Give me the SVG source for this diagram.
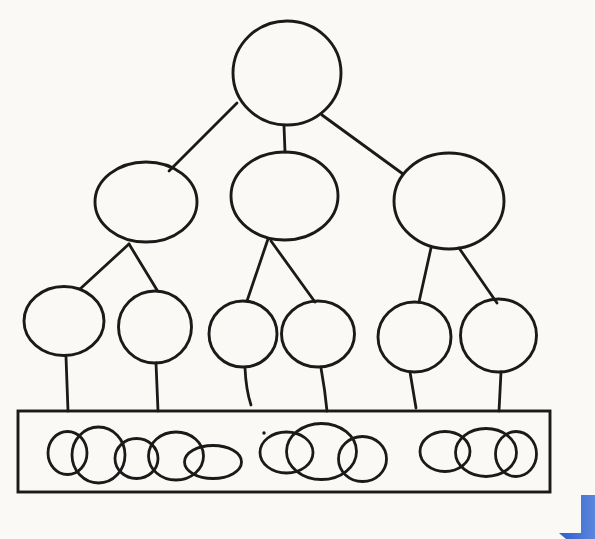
<svg xmlns="http://www.w3.org/2000/svg" width="595" height="539" viewBox="0 0 595 539">
  <style>
    .n { fill: none; stroke: #1a1a1a; stroke-width: 2.9; }
    .e { fill: none; stroke: #1a1a1a; stroke-width: 2.8; stroke-linecap: round; }
    .s { fill: none; stroke: #1a1a1a; stroke-width: 2.8; }
  </style>
  <defs>
    <linearGradient id="blue" x1="0" y1="0" x2="1" y2="0">
      <stop offset="0" stop-color="#2f5fc8"/>
      <stop offset="1" stop-color="#5b86de"/>
    </linearGradient>
  </defs>
  <rect x="0" y="0" width="595" height="539" fill="#fbf9f5"/>

  <g id="connectors">
    <line class="e" x1="237" y1="103" x2="169" y2="171"/>
    <line class="e" x1="284" y1="126" x2="285" y2="152"/>
    <line class="e" x1="322" y1="115" x2="403" y2="174"/>
    <line class="e" x1="129" y1="244" x2="80" y2="289"/>
    <line class="e" x1="129" y1="244" x2="157" y2="290"/>
    <line class="e" x1="268" y1="239" x2="247" y2="301"/>
    <line class="e" x1="271" y1="241" x2="315" y2="302"/>
    <line class="e" x1="431" y1="248" x2="419" y2="302"/>
    <line class="e" x1="459" y1="248" x2="497" y2="303"/>
    <line class="e" x1="66" y1="357" x2="68" y2="411"/>
    <line class="e" x1="156" y1="363" x2="158" y2="411"/>
    <path class="e" d="M245 368 Q246 390 251 405"/>
    <path class="e" d="M321 368 Q325 390 327 411"/>
    <line class="e" x1="410" y1="372" x2="416" y2="408"/>
    <line class="e" x1="501" y1="372" x2="499" y2="411"/>
  </g>

  <g id="root"><ellipse class="n" cx="287" cy="73" rx="54" ry="52"/></g>
  <g id="l2-left"><ellipse class="n" cx="146" cy="202" rx="51" ry="40"/></g>
  <g id="l2-mid"><ellipse class="n" cx="284.5" cy="196" rx="53.5" ry="44"/></g>
  <g id="l2-right"><ellipse class="n" cx="449" cy="201" rx="55" ry="48"/></g>
  <g id="l3-1"><ellipse class="n" cx="64" cy="321" rx="40" ry="34.5"/></g>
  <g id="l3-2"><ellipse class="n" cx="155" cy="327" rx="36.5" ry="36"/></g>
  <g id="l3-3"><ellipse class="n" cx="243" cy="334" rx="34" ry="33"/></g>
  <g id="l3-4"><ellipse class="n" cx="318" cy="334" rx="36.5" ry="33"/></g>
  <g id="l3-5"><ellipse class="n" cx="414.5" cy="337" rx="36.5" ry="35"/></g>
  <g id="l3-6"><ellipse class="n" cx="498.5" cy="335.5" rx="38" ry="36.5"/></g>

  <g id="pool">
    <rect class="n" x="18" y="411" width="532" height="81"/>
    <ellipse class="s" cx="67.5" cy="453" rx="19.5" ry="21.5"/>
    <ellipse class="s" cx="98.5" cy="455" rx="26.5" ry="28"/>
    <ellipse class="s" cx="136.5" cy="458.5" rx="21.5" ry="20"/>
    <ellipse class="s" cx="176" cy="456" rx="27.5" ry="24"/>
    <ellipse class="s" cx="213" cy="462" rx="28.5" ry="16.5"/>
    <ellipse class="s" cx="286.5" cy="452.5" rx="26.5" ry="20.5"/>
    <ellipse class="s" cx="321.5" cy="451.5" rx="35" ry="28"/>
    <ellipse class="s" cx="362.5" cy="459" rx="24" ry="22.5"/>
    <circle cx="264" cy="433" r="1.7" fill="#1a1a1a"/>
    <ellipse class="s" cx="445" cy="451.5" rx="25" ry="20"/>
    <ellipse class="s" cx="486" cy="452.5" rx="30.5" ry="24"/>
    <ellipse class="s" cx="516" cy="454" rx="20.5" ry="22.5"/>
  </g>

  <polygon points="581,495 595,495 595,539 566,539 559,533 581,533" fill="url(#blue)"/>
</svg>
